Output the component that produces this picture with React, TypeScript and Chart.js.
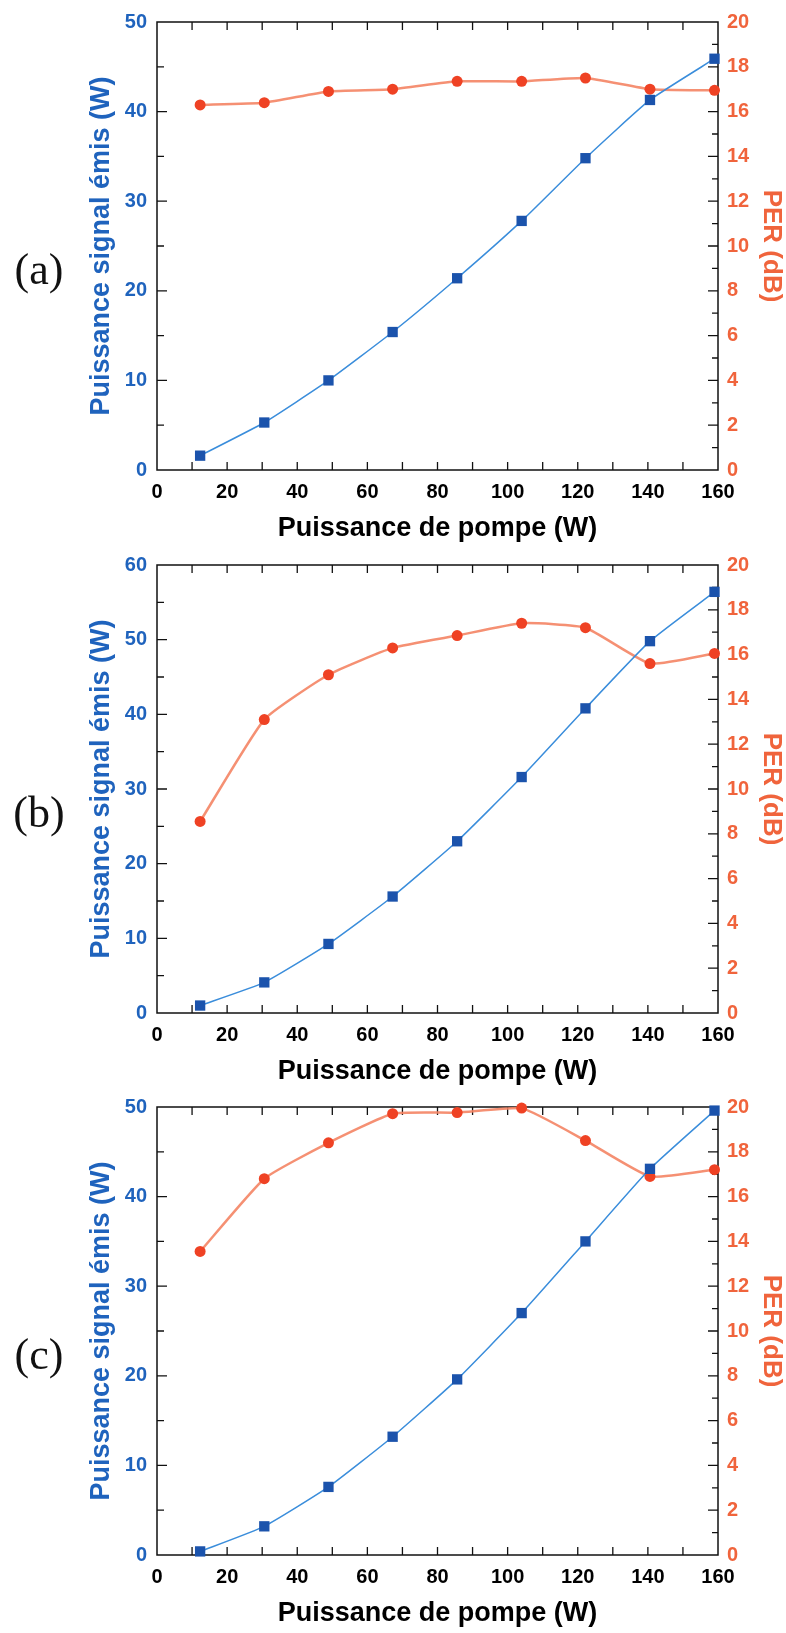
import React, { useEffect, useRef } from "react";
import { Chart, registerables } from "chart.js";

Chart.register(...registerables);

// Pump power (W), shared by the three panels
const pump = [12.3, 30.6, 48.9, 67.2, 85.6, 104, 122.2, 140.6, 159];

// Panel (a)
const signalA = [1.6, 5.3, 10.0, 15.4, 21.4, 27.8, 34.8, 41.3, 45.9];
const perA = [16.3, 16.4, 16.9, 17.0, 17.35, 17.35, 17.5, 17.0, 16.95];

// Panel (b)
const signalB = [1.0, 4.1, 9.25, 15.6, 23.0, 31.6, 40.8, 49.8, 56.4];
const perB = [8.55, 13.1, 15.1, 16.3, 16.85, 17.4, 17.2, 15.6, 16.05];

// Panel (c)
const signalC = [0.4, 3.2, 7.6, 13.2, 19.6, 27.0, 35.0, 43.1, 49.6];
const perC = [13.55, 16.8, 18.4, 19.7, 19.75, 19.95, 18.5, 16.9, 17.2];

const panelLabels = ["(a)", "(b)", "(c)"];
const leftMax = [50, 60, 50];
const perMax = 20;
const xMax = 160;

const xTitle = "Puissance de pompe (W)";
const leftTitle = "Puissance signal émis (W)";
const rightTitle = "PER (dB)";

const BLUE_TXT = "#1f63bd";
const ORANGE_TXT = "#f0643c";
const FONT = "'Liberation Sans', Arial, sans-serif";

const CANVAS_W = 786;
const CANVAS_H = 548;
const PLOT_TOP = 21;
const PLOT_BOTTOM = 470;
const PLOT_LEFT = 157;
const PLOT_RIGHT = 718;

const framePlugin = {
  id: "frameTicks",
  beforeDatasetsDraw(chart: any) {
    const { ctx, chartArea } = chart;
    const { left, right, top, bottom } = chartArea;
    const xs = chart.scales.x;
    const ys = chart.scales.y;
    const y1 = chart.scales.y1;
    ctx.save();
    ctx.strokeStyle = "#111";
    ctx.lineWidth = 1.5;
    ctx.strokeRect(left, top, right - left, bottom - top);
    ctx.lineWidth = 1.3;
    ctx.beginPath();
    for (let v = 10; v < xs.max; v += 10) {
      const px = xs.getPixelForValue(v);
      ctx.moveTo(px, bottom);
      ctx.lineTo(px, bottom - 8);
      ctx.moveTo(px, top);
      ctx.lineTo(px, top + 8);
    }
    for (let v = 5; v < ys.max; v += 5) {
      const py = ys.getPixelForValue(v);
      const len = v % 10 === 0 ? 10 : 7;
      ctx.moveTo(left, py);
      ctx.lineTo(left + len, py);
    }
    for (let v = 1; v < y1.max; v += 1) {
      const py = y1.getPixelForValue(v);
      const len = v % 2 === 0 ? 10 : 6;
      ctx.moveTo(right, py);
      ctx.lineTo(right - len, py);
    }
    ctx.stroke();
    ctx.restore();
  },
  afterDraw(chart: any) {
    const { ctx, chartArea } = chart;
    const label = chart.options.plugins.panelLabel?.text;
    if (!label) return;
    ctx.save();
    ctx.fillStyle = "#111";
    ctx.font = "44px 'Liberation Serif', 'Times New Roman', serif";
    ctx.textAlign = "center";
    ctx.textBaseline = "middle";
    ctx.fillText(label, 39, (chartArea.top + chartArea.bottom) / 2 + 26);
    ctx.restore();
  },
};

function Panel({ idx, signal, per, top }: { idx: number; signal: number[]; per: number[]; top: number }) {
  const ref = useRef<HTMLCanvasElement | null>(null);
  useEffect(() => {
    if (!ref.current) return;
    const chart = new Chart(ref.current, {
      type: "line",
      data: {
        datasets: [
          {
            label: "signal",
            data: pump.map((x, i) => ({ x, y: signal[i] })),
            yAxisID: "y",
            borderColor: "#3a8ddb",
            borderWidth: 1.5,
            pointStyle: "rect",
            pointRadius: 7.3,
            pointBackgroundColor: "#1b53ac",
            pointBorderColor: "#1b53ac",
            pointBorderWidth: 0,
            tension: 0.15,
            clip: false,
          } as any,
          {
            label: "PER",
            data: pump.map((x, i) => ({ x, y: per[i] })),
            yAxisID: "y1",
            borderColor: "rgba(244,132,100,0.9)",
            borderWidth: 2.5,
            pointStyle: "circle",
            pointRadius: 5.5,
            pointBackgroundColor: "#ef4224",
            pointBorderColor: "#ef4224",
            pointBorderWidth: 0,
            tension: 0.15,
            clip: false,
          } as any,
        ],
      },
      options: {
        animation: false,
        responsive: false,
        maintainAspectRatio: false,
        layout: { padding: { top: PLOT_TOP, left: 0, right: 0, bottom: 0 } },
        plugins: {
          legend: { display: false },
          tooltip: { enabled: false },
          panelLabel: { text: panelLabels[idx] },
        } as any,
        scales: {
          x: {
            type: "linear",
            position: "bottom",
            min: 0,
            max: xMax,
            grid: { display: false, drawTicks: false },
            border: { display: false },
            ticks: {
              stepSize: 20,
              color: "#000",
              font: { family: FONT, size: 20, weight: "bold" },
              padding: 10,
              maxRotation: 0,
              autoSkip: false,
            },
            title: {
              display: true,
              text: xTitle,
              color: "#000",
              font: { family: FONT, size: 27, weight: "bold", lineHeight: 1 },
              padding: { top: 0, bottom: 5.5 },
            },
            afterFit: (s: any) => {
              s.height = CANVAS_H - PLOT_BOTTOM;
            },
          },
          y: {
            type: "linear",
            position: "left",
            min: 0,
            max: leftMax[idx],
            grid: { display: false, drawTicks: false },
            border: { display: false },
            ticks: {
              stepSize: 10,
              color: BLUE_TXT,
              font: { family: FONT, size: 20, weight: "bold" },
              padding: 10,
            },
            title: {
              display: true,
              text: leftTitle,
              color: BLUE_TXT,
              font: { family: FONT, size: 27, weight: "bold", lineHeight: 1 },
              padding: { top: 88.5, bottom: 0 },
            },
            afterFit: (s: any) => {
              s.width = PLOT_LEFT;
            },
          },
          y1: {
            type: "linear",
            position: "right",
            min: 0,
            max: perMax,
            grid: { display: false, drawTicks: false },
            border: { display: false },
            ticks: {
              stepSize: 2,
              color: ORANGE_TXT,
              font: { family: FONT, size: 20, weight: "bold" },
              padding: 9,
            },
            title: {
              display: true,
              text: rightTitle,
              color: ORANGE_TXT,
              font: { family: FONT, size: 26, weight: "bold", lineHeight: 1 },
              padding: { top: 2, bottom: 0 },
            },
            afterFit: (s: any) => {
              s.width = CANVAS_W - PLOT_RIGHT;
            },
          },
        },
      } as any,
      plugins: [framePlugin],
    });
    return () => chart.destroy();
  }, [idx, signal, per]);
  return (
    <canvas
      ref={ref}
      width={CANVAS_W}
      height={CANVAS_H}
      style={{ position: "absolute", left: 0, top, width: CANVAS_W, height: CANVAS_H }}
    />
  );
}

export default function App() {
  return (
    <div style={{ position: "absolute", left: 0, top: 0, width: CANVAS_W, height: 1633, background: "#fff", overflow: "hidden" }}>
      <Panel idx={0} signal={signalA} per={perA} top={0} />
      <Panel idx={1} signal={signalB} per={perB} top={543} />
      <Panel idx={2} signal={signalC} per={perC} top={1085} />
    </div>
  );
}
